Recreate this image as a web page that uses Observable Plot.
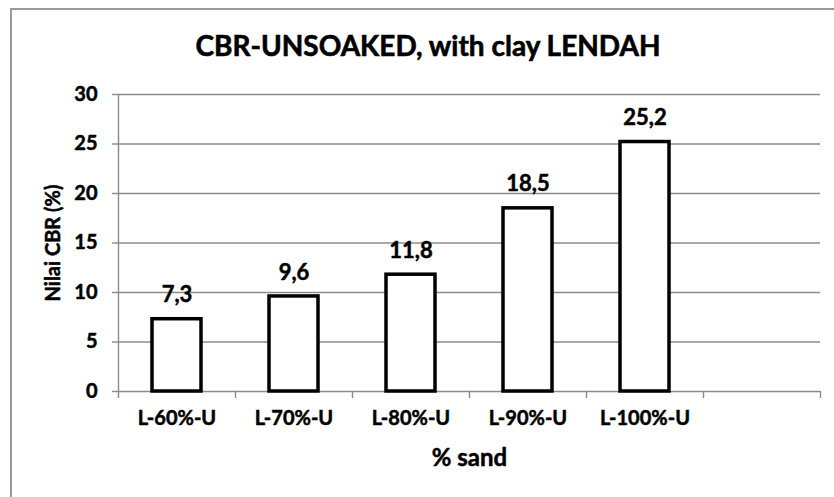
<!DOCTYPE html>
<html>
<head>
<meta charset="utf-8">
<script src="https://cdn.jsdelivr.net/npm/d3@7"></script>
<script src="https://cdn.jsdelivr.net/npm/@observablehq/plot@0.6"></script>
<style>
  html, body { margin: 0; padding: 0; background: #fff; }
  #wrap { position: relative; width: 834px; height: 497px; overflow: hidden; font-family: Lato, "Open Sans", sans-serif; }
  #frame { position: absolute; left: 10px; top: 8px; width: 900px; height: 600px;
           border-left: 2px solid #9a9a9a; border-top: 2px solid #9a9a9a; }
  #title { position: absolute; left: 0; top: 31px; width: 856px; text-align: center;
           font-weight: bold; font-size: 28px; line-height: 28px; color: #000;
           -webkit-text-stroke: 0.6px #000; }
  #chart { position: absolute; left: 0; top: 70px; }
</style>
</head>
<body>
<div id="wrap">
  <div id="frame"></div>
  <div id="title">CBR-UNSOAKED, with clay LENDAH</div>
  <div id="chart"></div>
</div>
<script>
const categories = ["L-60%-U", "L-70%-U", "L-80%-U", "L-90%-U", "L-100%-U"];
const values = [7.3, 9.6, 11.8, 18.5, 25.2];
const yTicks = [0, 5, 10, 15, 20, 25, 30];
const slotCount = 6; // 5 bars + one empty slot
const yLabel = "Nilai CBR (%)";
const xLabel = "% sand";

const data = categories.map((c, i) => ({cat: c, i, v: values[i]}));
const fmt = v => v.toFixed(1).replace(".", ",");
const gray = "#8c8c8c";
const boundaries = d3.range(0, slotCount + 1);
const centers = categories.map((c, i) => i + 0.5);
const heavy = {fontWeight: "bold", fill: "#000", stroke: "#000", strokeWidth: 0.5};

const chart = Plot.plot({
  width: 834,
  height: 420,
  marginTop: 24,
  marginBottom: 99,
  marginLeft: 118,
  marginRight: 14,
  style: {fontFamily: "Lato, 'Open Sans', sans-serif", background: "transparent", color: "#000"},
  x: {type: "linear", domain: [0, slotCount], axis: null},
  y: {domain: [0, 30], axis: null},
  marks: [
    Plot.gridY(yTicks, {stroke: gray, strokeOpacity: 1, strokeWidth: 1.4}),
    Plot.ruleX([0], {stroke: gray, strokeWidth: 1.4}),
    Plot.axisY({ticks: yTicks, tickSize: 6, tickPadding: 15, stroke: gray, strokeWidth: 1.4,
                fontSize: 20, fontWeight: "bold", fill: "#000", textStroke: "#000", textStrokeWidth: 0.5,
                textStrokeOpacity: 1, label: null}),
    Plot.axisX({ticks: boundaries, tickSize: 7, tickFormat: () => "", stroke: gray, strokeWidth: 1.4, label: null}),
    Plot.axisX({ticks: centers, tickSize: 0, tickPadding: 19, tickFormat: d => categories[Math.round(d - 0.5)],
                fontSize: 20, fontWeight: "bold", fill: "#000", textStroke: "#000", textStrokeWidth: 0.5,
                textStrokeOpacity: 1, label: null}),
    Plot.rectY(data, {x1: "i", x2: d => d.i + 1, y: "v", insetLeft: 34, insetRight: 34,
                      fill: "white", stroke: "black", strokeWidth: 3.5}),
    Plot.text(data, {x: d => d.i + 0.5, y: "v", text: d => fmt(d.v), dy: -24,
                     fontSize: 22, ...heavy}),
    Plot.text([yLabel], {frameAnchor: "left", textAnchor: "middle", lineAnchor: "middle",
                         dx: -65, rotate: -90, text: d => d, fontSize: 20, ...heavy}),
    Plot.text([xLabel], {frameAnchor: "bottom", textAnchor: "middle", lineAnchor: "middle",
                         dy: 67, text: d => d, fontSize: 24, ...heavy})
  ]
});
document.getElementById("chart").appendChild(chart);
</script>
</body>
</html>
